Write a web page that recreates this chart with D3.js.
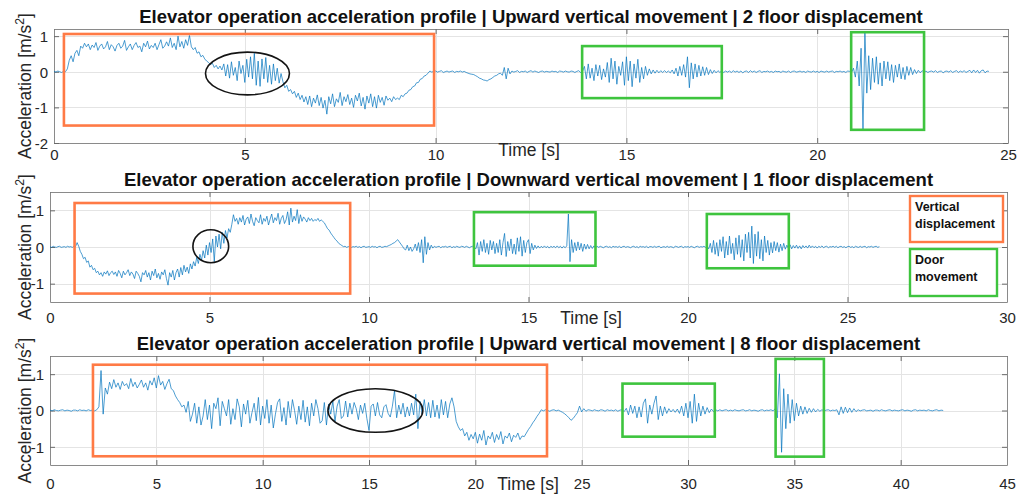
<!DOCTYPE html>
<html><head><meta charset="utf-8">
<script src="https://cdn.jsdelivr.net/npm/d3@7"></script>
<style>
body{margin:0;background:#fff}
svg{display:block;font-family:"Liberation Sans",Arial,Helvetica,sans-serif}
</style>
</head><body>
<svg id="chart" width="1018" height="496"></svg>
<script>
// ---------------- DATA ----------------
const titles = [
  "Elevator operation acceleration profile | Upward vertical movement | 2 floor displacement",
  "Elevator operation acceleration profile | Downward vertical movement | 1 floor displacement",
  "Elevator operation acceleration profile | Upward vertical movement | 8 floor displacement"
];
const xLabel = "Time [s]";
const yLabelMain = "Acceleration [m/s";
const yLabelSup = "2";
const yLabelEnd = "]";

const xTicks1 = [0, 5, 10, 15, 20, 25];
const yTicks1 = [-2, -1, 0, 1];
const xTicks2 = [0, 5, 10, 15, 20, 25, 30];
const yTicks2 = [-1, 0, 1];
const xTicks3 = [0, 5, 10, 15, 20, 25, 30, 35, 40, 45];
const yTicks3 = [-1, 0, 1];

// sample interval (s) of each recording
const sampleStep1 = 0.05;
const sampleStep2 = 0.05;
const sampleStep3 = 0.1;

// acceleration samples [m/s^2]
const accel1 = [
0.01,-0.01,0.02,0,-0.02,0.01,0,0.08,0.32,0.45,0.28,0.52,0.6,0.45,0.72,0.66,0.8,0.7,0.78,0.62,
0.75,0.68,0.82,0.6,0.72,0.78,0.64,0.7,0.85,0.62,0.76,0.7,0.58,0.74,0.8,0.66,0.72,0.88,0.6,0.7,
0.78,0.62,0.74,0.82,0.68,0.72,0.56,0.8,0.7,0.86,0.64,0.74,0.68,0.8,0.62,0.76,0.9,0.66,0.72,0.84,
0.72,0.95,0.68,0.8,0.62,1.0,0.7,0.85,0.66,0.9,0.74,1.02,0.7,0.62,0.68,0.52,0.56,0.42,0.46,0.36,
0.3,0.26,0.2,0.24,0.12,0.18,0.08,0.16,0.05,0.22,-0.12,0.2,-0.18,0.28,-0.1,0.12,-0.25,0.3,-0.05,0.18,
-0.3,0.35,-0.15,0.42,-0.2,0.52,-0.38,0.3,-0.41,0.36,-0.2,0.4,-0.3,0.18,-0.35,0.22,-0.25,0.1,-0.32,-0.05,
-0.28,-0.45,-0.38,-0.55,-0.5,-0.62,-0.55,-0.72,-0.6,-0.78,-0.66,-0.85,-0.7,-0.92,-0.68,-0.98,-0.74,-0.88,-0.65,-0.95,
-0.72,-1.02,-0.8,-1.19,-0.7,-0.9,-0.62,-0.98,-0.76,-0.86,-0.58,-0.95,-0.7,-0.84,-0.64,-0.92,-0.74,-1.0,-0.66,-0.82,
-0.6,-0.96,-0.72,-1.05,-0.68,-0.88,-0.62,-0.98,-0.7,-1.02,-0.66,-0.86,-0.72,-0.94,-0.68,-0.8,-0.74,-0.84,-0.7,-0.78,
-0.74,-0.78,-0.66,-0.7,-0.62,-0.6,-0.52,-0.5,-0.42,-0.4,-0.31,-0.3,-0.21,-0.19,-0.12,-0.1,-0.04,0.02,-0.01,0.01,
0.02,-0.01,0.01,0.03,-0.02,0,0.02,-0.01,0.01,0.02,-0.02,0.01,0,0.02,-0.01,0.01,-0.02,-0.04,-0.06,-0.07,
-0.08,-0.11,-0.14,-0.18,-0.2,-0.23,-0.24,-0.26,-0.22,-0.2,-0.16,-0.12,-0.1,-0.06,-0.04,-0.1,0.12,-0.2,0.1,-0.06,
0.02,-0.01,0.01,0.03,-0.02,0.01,0,0.02,-0.02,0.01,0.03,-0.01,0.02,0,-0.02,0.01,0.02,-0.01,0.01,0,
-0.01,0.02,0,0.01,-0.02,0.02,0.01,-0.01,0.02,0,-0.01,0.02,0.01,-0.02,0.01,0.03,-0.02,0.01,0.15,-0.2,
0.22,-0.18,0.1,-0.25,0.2,-0.12,0.18,-0.22,0.08,-0.15,0.26,-0.3,0.38,-0.2,0.3,-0.35,0.15,-0.1,0.28,-0.38,
0.42,-0.25,0.3,-0.42,0.22,-0.18,0.35,-0.3,0.12,-0.2,0.15,-0.1,0.08,-0.06,0.05,-0.04,0.04,-0.03,0.03,-0.02,
0.03,-0.02,0.02,-0.03,0.05,-0.06,0.1,-0.12,0.15,-0.1,0.2,-0.15,0.42,-0.45,0.25,-0.2,0.22,-0.15,0.18,-0.12,
0.14,-0.1,0.12,-0.08,0.06,-0.05,0.04,-0.03,0.03,-0.02,0.03,-0.02,0.02,-0.01,0.02,-0.02,0.03,-0.01,0.02,-0.02,
0.02,-0.03,0.01,0.02,-0.02,0.03,-0.01,0.02,-0.02,0.01,0.03,-0.02,0.01,0,0.02,-0.01,0.01,-0.02,0.02,0,
0.01,-0.02,0.02,0,-0.01,0.02,-0.02,0.01,0.02,-0.01,0,0.02,-0.01,0.01,-0.02,0.02,0,-0.01,0.02,-0.01,
0.01,-0.02,0.02,0,-0.01,0.02,-0.01,0.01,0.02,-0.02,0.01,0,0.02,-0.01,0.01,-0.02,0.02,0.01,-0.02,0.1,
-0.15,0.3,-0.4,0.66,-1.62,1.13,-0.6,0.45,-0.5,0.38,-0.3,0.42,-0.35,0.25,-0.4,0.3,-0.2,0.28,-0.25,0.2,
-0.3,0.18,-0.15,0.22,-0.2,0.12,-0.22,0.15,-0.1,0.12,-0.08,0.06,-0.05,0.04,-0.03,0.03,-0.02,0.02,-0.02,0.01,
0.02,-0.01,0.03,-0.02,0.01,0.02,-0.03,0.01,0.02,-0.01,0.03,-0.02,0.01,0.03,-0.02,0.02,-0.01,0.03,-0.02,0.01,
0.04,-0.03,0.05,-0.02,0.04,-0.04,0.03,0.05,-0.03,0.02,0.01
];

const accel2 = [
0.01,-0.01,0.02,0,-0.01,0.01,0.02,-0.01,0,0.01,-0.01,0.02,0,0.01,-0.01,0.02,0.01,0.12,0.02,-0.12,
-0.2,-0.32,-0.28,-0.42,-0.38,-0.55,-0.5,-0.62,-0.58,-0.7,-0.66,-0.76,-0.7,-0.8,-0.68,-0.74,-0.65,-0.78,-0.7,-0.66,
-0.75,-0.68,-0.8,-0.64,-0.72,-0.84,-0.66,-0.76,-0.7,-0.62,-0.78,-0.68,-0.74,-0.86,-0.66,-0.72,-0.8,-0.95,-0.7,-0.76,
-0.64,-0.82,-0.7,-0.9,-0.66,-0.78,-0.6,-0.84,-0.72,-0.88,-0.68,-0.76,-0.62,-0.86,-1.04,-0.7,-0.82,-0.64,-0.9,-0.7,
-0.6,-0.82,-0.56,-0.76,-0.5,-0.68,-0.55,-0.72,-0.46,-0.6,-0.4,-0.52,-0.28,-0.45,-0.2,-0.36,-0.1,-0.3,0.05,-0.22,
0.12,-0.15,0.22,-0.4,0.3,0.0,0.35,-0.05,0.4,0.1,0.45,0.25,0.5,0.4,0.62,0.88,0.7,0.78,0.62,0.8,
0.68,0.86,0.6,0.76,0.82,0.64,0.9,0.7,0.58,0.8,0.72,0.66,0.88,0.62,0.78,0.7,0.84,0.6,0.76,0.9,
0.66,0.8,0.72,0.92,0.62,0.78,0.86,0.64,0.74,0.96,0.6,1.06,0.68,0.84,0.72,1.02,0.64,0.88,0.7,0.82,
0.76,0.68,0.8,0.72,0.78,0.7,0.75,0.72,0.78,0.7,0.74,0.7,0.66,0.58,0.5,0.46,0.38,0.32,0.26,0.2,
0.16,0.1,0.07,0.04,0.01,0.02,-0.01,0.01,0.02,-0.01,0.01,0,0.02,-0.01,0.01,-0.02,0.01,0.02,-0.01,0,
0.01,-0.01,0.02,0,0.01,-0.02,0.01,0.02,-0.01,0,0.02,0.01,0.03,0.05,0.07,0.1,0.12,0.16,0.2,0.14,
0.08,0.02,-0.05,-0.08,0.05,-0.1,0.0,-0.12,-0.05,0.08,-0.1,0.12,-0.15,0.2,-0.43,0.28,-0.2,0.12,-0.08,0.05,
-0.03,0.02,-0.01,0.01,0.02,-0.02,0.01,0,0.02,-0.01,0.01,0.02,-0.02,0.01,-0.01,0.02,0,-0.01,0.02,0.01,
-0.01,0.02,0,-0.02,0.01,0.02,-0.01,-0.05,0.12,-0.22,0.15,-0.12,0.2,-0.15,0.1,-0.2,0.18,-0.08,0.15,-0.18,
0.1,-0.15,0.2,-0.22,0.12,0.37,-0.26,0.15,-0.1,0.22,-0.18,0.08,-0.2,0.25,-0.12,0.28,-0.25,0.18,-0.15,0.12,
0.2,-0.18,0.1,-0.08,0.05,-0.04,0.03,-0.03,0.02,-0.02,0.03,-0.02,0.02,-0.03,0.02,-0.01,0.02,-0.02,0.03,-0.02,
0.02,-0.03,0.02,-0.02,0.03,0.9,-0.4,0.2,-0.15,0.12,-0.1,0.14,-0.08,0.1,-0.12,0.08,-0.06,0.07,-0.05,0.04,
-0.04,0.03,-0.02,0.02,-0.01,0.02,0,-0.02,0.01,0.02,-0.01,0.01,-0.02,0.02,0,0.01,-0.01,0.02,-0.02,0.01,
0.02,-0.01,0.01,0,-0.02,0.01,0.02,-0.01,0.01,-0.02,0.02,0,0.01,-0.01,0.02,-0.02,0.01,0.01,-0.01,0.02,
-0.01,0.01,0.02,-0.02,0,0.01,-0.01,0.02,-0.01,0.01,0,-0.02,0.02,0.01,-0.01,0.01,0.02,-0.02,0.01,0,
0.01,-0.01,0.02,0,-0.02,0.01,0.02,-0.01,0.01,0,0.02,-0.01,0.01,-0.05,0.1,-0.15,0.18,-0.2,0.12,-0.25,
0.2,-0.12,0.28,-0.3,0.15,-0.22,0.3,-0.18,0.1,-0.35,0.25,-0.2,0.32,-0.28,0.2,-0.38,0.35,-0.15,0.4,-0.3,
0.57,-0.45,0.35,-0.25,0.42,-0.32,0.2,-0.38,0.3,-0.15,0.18,-0.22,0.12,-0.16,0.15,-0.1,0.12,-0.14,0.08,-0.1,
0.1,-0.06,0.05,-0.04,0.06,-0.05,0.04,-0.03,0.05,-0.04,0.03,-0.05,0.04,-0.02,0.03,-0.03,0.05,-0.02,0.03,-0.02,
0.02,-0.03,0.02,-0.01,0.03,-0.02,0.01,0.02,-0.02,0.01,0,0.02,-0.01,0.02,-0.02,0.01,0.02,-0.01,0.01,-0.02,
0.01,0.02,-0.01,0.01,-0.02,0.02,0,-0.01,0.02,-0.01,0.01,0.02,-0.02,0.01,0,0.02,-0.01,0.01,0.02,-0.01,
0.01
];

const accel3 = [
0.01,-0.01,0.02,0,-0.01,0.01,0.02,-0.01,0.01,0,-0.02,0.01,0.01,-0.01,0.02,0,0.01,-0.01,0.02,0,
0.01,-0.01,0.02,0.1,1.1,-0.1,0.62,0.45,0.78,0.6,0.85,0.64,0.76,0.58,0.8,0.68,0.74,0.6,0.88,0.66,
0.78,0.62,0.72,0.84,0.64,0.76,0.56,0.82,0.7,0.9,0.62,0.96,0.7,0.8,0.58,0.74,0.86,0.6,0.55,0.4,
0.3,0.22,0.1,0.15,-0.05,0.25,-0.3,-0.1,0.2,-0.35,0.1,-0.4,-0.15,0.3,-0.25,0.15,-0.5,0.2,0.05,0.35,
-0.42,0.25,0.05,-0.15,0.3,-0.38,0.05,-0.25,0.32,0.1,-0.45,0.18,-0.1,0.28,-0.35,-0.05,0.2,-0.28,0.36,-0.4,
0.12,-0.22,0.3,-0.35,0.15,-0.48,-0.1,0.22,0.32,-0.3,0.08,-0.4,0.25,-0.2,0.3,0.0,-0.38,0.12,-0.25,0.28,
-0.32,0.1,-0.42,0.2,-0.15,0.3,0.05,-0.35,-0.28,0.22,-0.4,0.18,-0.1,0.25,-0.3,0.12,0.3,-0.22,-0.15,0.26,
-0.18,0.2,-0.1,0.22,0.05,-0.25,0.15,-0.08,0.2,-0.22,-0.55,0.12,0.18,-0.15,0.22,-0.12,-0.2,0.1,0.16,-0.08,
-0.18,0.12,0.55,-0.2,0.15,-0.1,0.2,-0.18,0.1,-0.15,0.2,-0.12,0.45,-0.5,0.25,-0.1,0.3,-0.15,0.22,-0.2,
0.28,-0.18,0.15,-0.22,0.3,-0.12,0.25,-0.2,0.18,0.35,0.1,-0.3,-0.45,-0.55,-0.5,-0.7,-0.6,-0.82,-0.66,-0.78,
-0.6,-0.9,-0.65,-0.82,-0.55,-0.95,-0.7,-0.78,-0.6,-0.88,-0.66,-0.8,-0.58,-0.92,-0.7,-0.76,-0.62,-0.86,-0.68,-0.74,
-0.62,-0.8,-0.7,-0.72,-0.62,-0.52,-0.44,-0.34,-0.26,-0.16,-0.08,0.02,-0.01,0.02,0,-0.02,0.01,0.02,-0.01,0.01,
-0.02,-0.05,-0.09,-0.14,-0.2,-0.27,-0.22,-0.14,-0.06,0.12,-0.04,0.05,-0.02,0.02,0.01,-0.01,0.02,0,-0.01,0.02,
0.01,-0.02,0.02,0,0.01,-0.01,0.02,-0.02,0.01,0.02,-0.03,0.06,-0.12,0.15,-0.08,0.12,-0.2,0.1,-0.18,0.2,
0.32,-0.35,0.15,-0.1,0.2,0.4,-0.25,0.12,-0.15,0.1,-0.08,0.05,-0.04,0.03,-0.05,0.04,-0.08,0.12,-0.15,0.2,
-0.2,0.25,-0.35,0.45,-0.3,0.2,-0.15,0.12,-0.1,0.08,-0.06,0.04,-0.03,0.02,-0.01,0.02,-0.01,0.01,0.02,-0.01,
0.01,-0.01,0.02,0,-0.01,0.01,0.02,-0.01,0,0.02,-0.01,0.01,0,-0.02,0.01,0.02,-0.01,0.01,0,0.02,
-0.01,0.05,-0.2,1.01,-1.15,0.6,-0.5,0.45,-0.35,0.3,-0.28,0.2,-0.15,0.12,-0.1,0.1,-0.08,0.06,-0.05,0.05,
-0.04,0.03,-0.02,0.02,-0.01,0.01,0.02,-0.01,0.01,0,0.02,-0.12,0.1,-0.08,0.09,-0.06,0.07,-0.05,0.05,-0.03,
0.02,-0.01,0.01,0.02,-0.01,0,0.01,-0.02,0.01,0.01,-0.01,0.02,0,-0.01,0.01,0.02,-0.01,0.01,0,-0.01,
0.01,0.02,-0.01,0.01,0,-0.02,0.01,0.02,-0.01,0.01,0,0.01,-0.01,0.02,0,-0.01,0.01,0.02,-0.01,0.01,
0
];

// highlighted regions in data units: [tStart, tEnd, aLow, aHigh, kind]
const regions1 = [[0.26, 9.96, -1.51, 1.06, "vertical"], [13.84, 17.5, -0.74, 0.72, "door"], [20.89, 22.8, -1.63, 1.11, "door"]];
const regions2 = [[0.77, 9.41, -1.27, 1.2, "vertical"], [13.29, 17.1, -0.51, 0.95, "door"], [20.59, 23.16, -0.58, 0.9, "door"]];
const regions3 = [[2.02, 23.37, -1.26, 1.26, "vertical"], [26.92, 31.26, -0.72, 0.74, "door"], [34.12, 36.39, -1.27, 1.42, "door"]];
// ellipses in data units: [tCenter, aCenter, tRadius, aRadius]
const ellipses1 = [[5.07, -0.05, 1.1, 0.6]];
const ellipses2 = [[5.04, 0.02, 0.56, 0.45]];
const ellipses3 = [[15.3, 0.0, 2.23, 0.6]];

const legendItems = [["Vertical", "displacement", "vertical"], ["Door", "movement", "door"]];

// ---------------- STYLE / LAYOUT ----------------
const colors = {vertical: "#FF7A45", door: "#3EC43E", ellipse: "#141414", line: "#0072BD"};
const panels = [
  {title: titles[0], data: accel1, dt: sampleStep1, xDomain: [0, 25], yDomain: [-2, 1.2], xTicks: xTicks1, yTicks: yTicks1,
   regions: regions1, ellipses: ellipses1, l: 54, r: 1008, t: 29, b: 143, titleY: 17, tickY: 155, xl: [529, 150]},
  {title: titles[1], data: accel2, dt: sampleStep2, xDomain: [0, 30], yDomain: [-1.5, 1.5], xTicks: xTicks2, yTicks: yTicks2,
   regions: regions2, ellipses: ellipses2, l: 50, r: 1007, t: 192, b: 302, titleY: 180, tickY: 318, xl: [591, 318], legend: true},
  {title: titles[2], data: accel3, dt: sampleStep3, xDomain: [0, 45], yDomain: [-1.5, 1.5], xTicks: xTicks3, yTicks: yTicks3,
   regions: regions3, ellipses: ellipses3, l: 50, r: 1007, t: 356, b: 465, titleY: 344, tickY: 484, xl: [528, 484]}
];

const svg = d3.select("#chart");
const tickFont = 15, labelFont = 17.5, titleFont = 18.5;

panels.forEach(p => {
  const x = d3.scaleLinear().domain(p.xDomain).range([p.l, p.r]);
  const y = d3.scaleLinear().domain(p.yDomain).range([p.b, p.t]);
  const g = svg.append("g");

  // grid
  g.append("g").selectAll("line.gx").data(p.xTicks.filter(v => v > p.xDomain[0] && v < p.xDomain[1])).join("line")
    .attr("x1", d => Math.round(x(d)) + 0.5).attr("x2", d => Math.round(x(d)) + 0.5)
    .attr("y1", p.t).attr("y2", p.b).attr("stroke", "#e4e4e4").attr("stroke-width", 1);
  g.append("g").selectAll("line.gy").data(p.yTicks.filter(v => v > p.yDomain[0] && v < p.yDomain[1])).join("line")
    .attr("y1", d => Math.round(y(d)) + 0.5).attr("y2", d => Math.round(y(d)) + 0.5)
    .attr("x1", p.l).attr("x2", p.r).attr("stroke", "#e4e4e4").attr("stroke-width", 1);

  // axes via d3-axis (bottom/left with labels; top/right ticks only)
  const tickFmt = d => String(d);
  const axB = g.append("g").attr("transform", `translate(0,${p.b})`)
    .call(d3.axisBottom(x).tickValues(p.xTicks).tickSize(-5).tickSizeOuter(0).tickFormat(tickFmt));
  const axT = g.append("g").attr("transform", `translate(0,${p.t})`)
    .call(d3.axisTop(x).tickValues(p.xTicks).tickSize(-5).tickSizeOuter(0).tickFormat(""));
  const axL = g.append("g").attr("transform", `translate(${p.l},0)`)
    .call(d3.axisLeft(y).tickValues(p.yTicks).tickSize(-5).tickSizeOuter(0).tickFormat(tickFmt));
  const axR = g.append("g").attr("transform", `translate(${p.r},0)`)
    .call(d3.axisRight(y).tickValues(p.yTicks).tickSize(-5).tickSizeOuter(0).tickFormat(""));
  [axB, axT, axL, axR].forEach(a => {
    a.select(".domain").attr("stroke", "#8a8a8a").attr("stroke-width", 1);
    a.selectAll(".tick line").attr("stroke", "#6a6a6a");
    a.selectAll("text").attr("font-family", '"Liberation Sans",Arial,sans-serif').attr("font-size", tickFont).attr("fill", "#262626");
  });
  axB.selectAll(".tick text").attr("dy", null).attr("y", p.tickY - p.b + tickFont * 0.35);
  axL.selectAll(".tick text").attr("x", -6).attr("dy", "0.35em");

  // signal
  const line = d3.line().x((d, i) => x(i * p.dt)).y(d => y(d));
  g.append("path").datum(p.data).attr("d", line).attr("fill", "none")
    .attr("stroke", colors.line).attr("stroke-width", 0.7).attr("stroke-linejoin", "round");

  // highlighted regions
  g.append("g").selectAll("rect").data(p.regions).join("rect")
    .attr("x", d => x(d[0])).attr("width", d => x(d[1]) - x(d[0]))
    .attr("y", d => y(d[3])).attr("height", d => y(d[2]) - y(d[3]))
    .attr("fill", "none").attr("stroke", d => colors[d[4]]).attr("stroke-width", 2.6);
  g.append("g").selectAll("ellipse").data(p.ellipses).join("ellipse")
    .attr("cx", d => x(d[0])).attr("cy", d => y(d[1]))
    .attr("rx", d => x(d[0] + d[2]) - x(d[0])).attr("ry", d => y(d[1] - d[3]) - y(d[1]))
    .attr("fill", "none").attr("stroke", colors.ellipse).attr("stroke-width", 1.6);

  // title
  svg.append("text").attr("x", (p.l + p.r) / 2).attr("y", p.titleY + titleFont * 0.35)
    .attr("text-anchor", "middle").attr("font-weight", "bold").attr("font-size", titleFont)
    .attr("fill", "#111").text(p.title);
  // x label
  svg.append("text").attr("x", p.xl[0]).attr("y", p.xl[1] + labelFont * 0.35)
    .attr("text-anchor", "middle").attr("font-size", labelFont).attr("fill", "#262626").text(xLabel);
  // y label
  const yl = svg.append("text").attr("transform", `translate(31,${(p.t + p.b) / 2}) rotate(-90)`)
    .attr("text-anchor", "middle").attr("font-size", labelFont).attr("fill", "#262626");
  yl.append("tspan").text(yLabelMain);
  yl.append("tspan").attr("font-size", labelFont * 0.7).attr("dy", -labelFont * 0.4).text(yLabelSup);
  yl.append("tspan").attr("dy", labelFont * 0.4).text(yLabelEnd);

  if (p.legend) {
    const boxes = [{x: 910, y: 196, w: 93, h: 46}, {x: 910, y: 249, w: 87, h: 47}];
    legendItems.forEach((it, i) => {
      const b = boxes[i];
      svg.append("rect").attr("x", b.x).attr("y", b.y).attr("width", b.w).attr("height", b.h)
        .attr("fill", "#fff").attr("stroke", colors[it[2]]).attr("stroke-width", 2.4);
      const tx = svg.append("text").attr("font-size", 12.5).attr("font-weight", "bold").attr("fill", "#111");
      tx.append("tspan").attr("x", b.x + 5).attr("y", b.y + 15).text(it[0]);
      tx.append("tspan").attr("x", b.x + 5).attr("y", b.y + 32).text(it[1]);
    });
  }
});
</script>
</body></html>
